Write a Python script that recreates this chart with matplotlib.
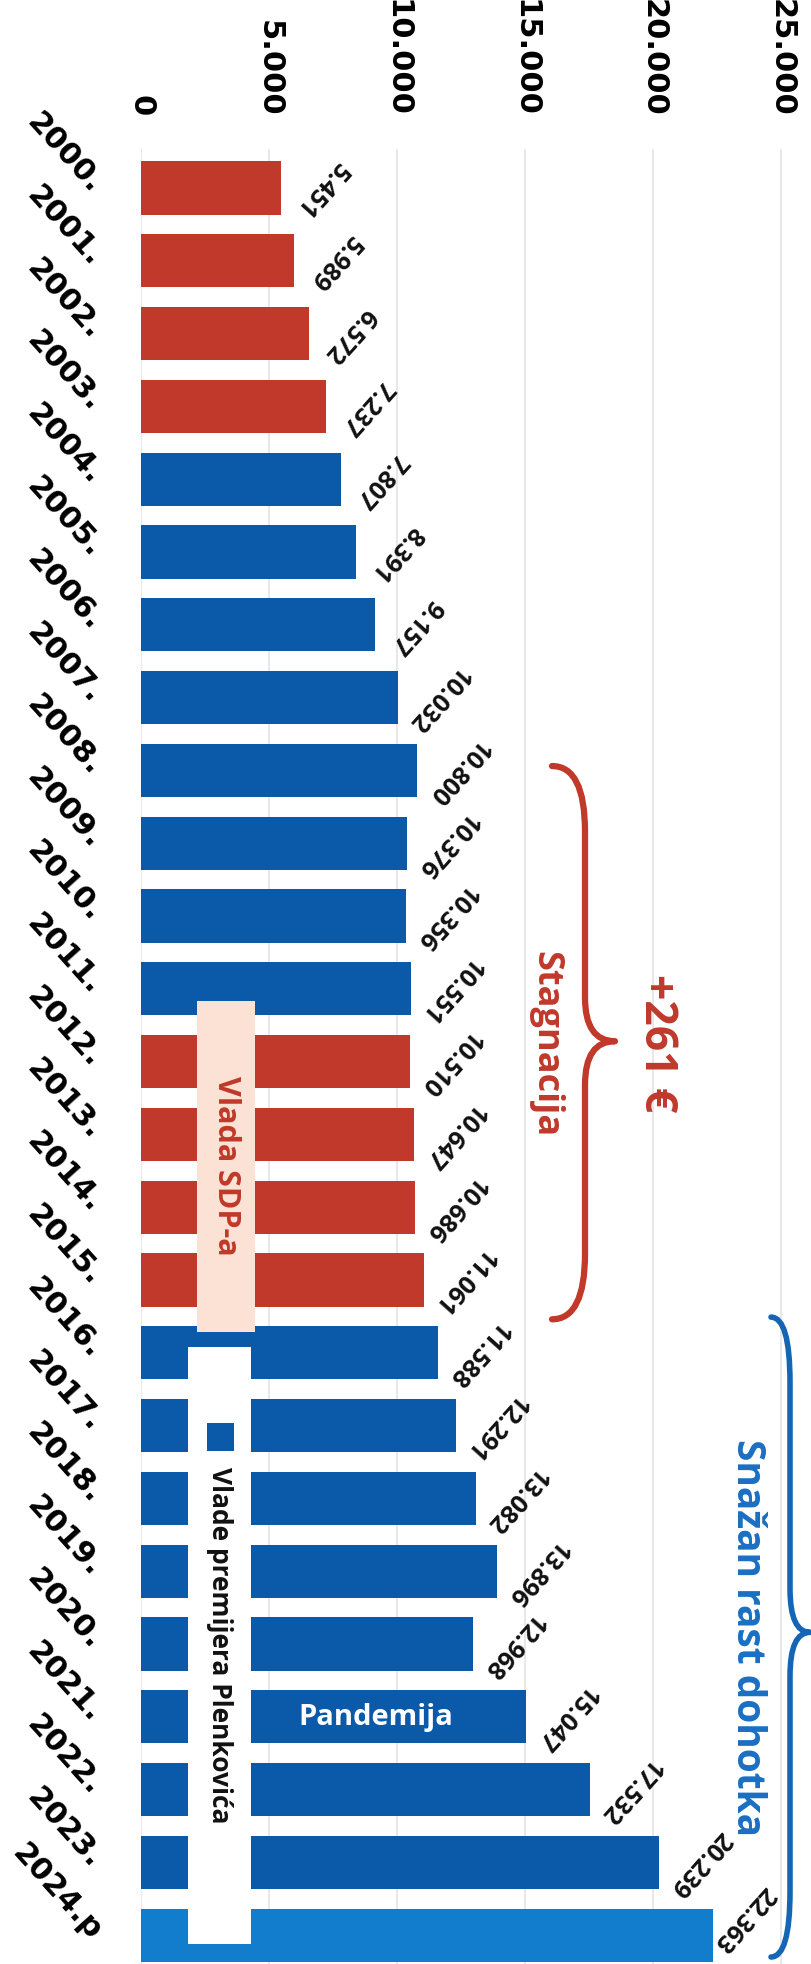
import matplotlib
matplotlib.use("Agg")
import matplotlib.pyplot as plt
from matplotlib.path import Path
from matplotlib.patches import PathPatch, Rectangle

# ---------------- data ----------------
years = ["2000.", "2001.", "2002.", "2003.", "2004.", "2005.", "2006.", "2007.",
         "2008.", "2009.", "2010.", "2011.", "2012.", "2013.", "2014.", "2015.",
         "2016.", "2017.", "2018.", "2019.", "2020.", "2021.", "2022.", "2023.",
         "2024.p"]
values = [5451, 5989, 6572, 7237, 7807, 8391, 9157, 10032,
          10800, 10376, 10356, 10551, 10510, 10647, 10686, 11061,
          11588, 12291, 13082, 13896, 12968, 15047, 17532, 20239,
          22363]
groups = ["SDP"] * 4 + ["HDZ"] * 8 + ["SDP"] * 4 + ["HDZ"] * 8 + ["proj"]
xticks = [0, 5000, 10000, 15000, 20000, 25000]
xtick_labels = ["0", "5.000", "10.000", "15.000", "20.000", "25.000"]

RED = "#C0392B"
BLUE = "#0B5AAA"
LIGHT = "#127DCD"
group_colors = {"SDP": RED, "HDZ": BLUE, "proj": LIGHT}
colors = [group_colors[g] for g in groups]

W, H = 811, 1965
fig = plt.figure(figsize=(W / 100, H / 100), dpi=100)
ax = fig.add_axes([141 / W, 0, 670 / W, 1815 / H])

ypos = list(range(len(years)))
ax.barh(ypos, values, height=0.73, color=colors, zorder=2)
ax.set_xlim(0, 26172)
ax.set_ylim(24.396, -0.536)

for s in ax.spines.values():
    s.set_visible(False)
ax.grid(axis="x", color="#E8E8E8", lw=1.5, zorder=0)
ax.set_axisbelow(True)

# value axis (top)
ax.xaxis.tick_top()
ax.set_xticks(xticks, xtick_labels)
for t in ax.get_xticklabels():
    t.set_rotation(-90)
    t.set_fontsize(22)
    t.set_fontweight("bold")
    t.set_family("DejaVu Sans")
ax.tick_params(axis="x", length=0, pad=24)

# category axis (left)
ax.set_yticks(ypos, years)
for t in ax.get_yticklabels():
    t.set_rotation(-48)
    t.set_rotation_mode("anchor")
    t.set_ha("right")
    t.set_va("center")
    t.set_fontsize(22)
    t.set_fontweight("bold")
    t.set_family("DejaVu Sans")
ax.tick_params(axis="y", length=0, pad=32)


def fmt(v):
    return f"{v:,}".replace(",", ".")


last = len(values) - 1
for i, v in enumerate(values):
    offset = (22, 13) if i == last else (29, 0)
    ax.annotate(fmt(v), xy=(v, i), xytext=offset, textcoords="offset points",
                rotation=228, rotation_mode="anchor", ha="center", va="center",
                fontsize=18, fontweight="bold", family="Open Sans",
                color="#111111", zorder=5)


def brace(x_end, x_spine, x_tip, y_top, y_bot, y_tip, r_end, r_tip, color, lw):
    verts = [
        (x_end, y_top),
        (x_spine, y_top), (x_spine, y_top + r_end),
        (x_spine, y_tip - r_tip),
        (x_spine, y_tip), (x_tip, y_tip),
        (x_spine, y_tip), (x_spine, y_tip + r_tip),
        (x_spine, y_bot - r_end),
        (x_spine, y_bot), (x_end, y_bot),
    ]
    codes = [Path.MOVETO,
             Path.CURVE3, Path.CURVE3,
             Path.LINETO,
             Path.CURVE3, Path.CURVE3,
             Path.CURVE3, Path.CURVE3,
             Path.LINETO,
             Path.CURVE3, Path.CURVE3]
    ax.add_patch(PathPatch(Path(verts, codes), fill=False, edgecolor=color,
                           lw=lw, clip_on=False, zorder=6,
                           capstyle="round", joinstyle="round"))


# red brace: stagnation
brace(16055, 17344, 18516, 7.94, 15.54, 11.72, 0.9, 0.6, RED, 4.5)
ax.text(20156, 11.74, "+261 €", rotation=-90, ha="center", va="center",
        fontsize=32, fontweight="bold", family="Open Sans", color=RED,
        clip_on=False, zorder=7)
ax.text(15781, 11.74, "Stagnacija", rotation=-90, ha="center", va="center",
        fontsize=26, fontweight="bold", family="Open Sans", color=RED,
        clip_on=False, zorder=7)

# blue brace: strong growth
brace(24609, 25352, 26133, 15.51, 24.3, 19.84, 0.9, 0.6, "#1565B5", 4.0)
ax.text(23680, 19.9, "Snažan rast dohotka", rotation=-90, ha="center",
        va="center", fontsize=28, fontweight="bold", family="Open Sans",
        color="#1A6FC4", clip_on=False, zorder=7)

# "Vlada SDP-a" box
ax.add_patch(Rectangle((2188, 11.17), 2266, 4.54, facecolor="#FBE2D5",
                       edgecolor="none", zorder=8))
ax.text(3320, 13.42, "Vlada SDP-a", rotation=-90, ha="center", va="center",
        fontsize=22, fontweight="bold", family="Open Sans", color=RED,
        zorder=9)

# legend box "Vlade premijera Plenkovića"
ax.add_patch(Rectangle((1836, 15.92), 2461, 8.2, facecolor="white",
                       edgecolor="none", zorder=8))
ax.add_patch(Rectangle((2578, 16.96), 1055, 0.39, facecolor=BLUE,
                       edgecolor="none", zorder=9))
ax.text(3047, 17.55, "Vlade premijera Plenkovića", rotation=-90, ha="center",
        va="top", fontsize=19, fontweight="bold", family="Open Sans",
        color="#111111", zorder=9)

# pandemic note
ax.text(9180, 21.0, "Pandemija", ha="center", va="center", fontsize=21,
        fontweight="bold", family="Open Sans", color="white", zorder=9)

fig.savefig("out.png", dpi=100)
